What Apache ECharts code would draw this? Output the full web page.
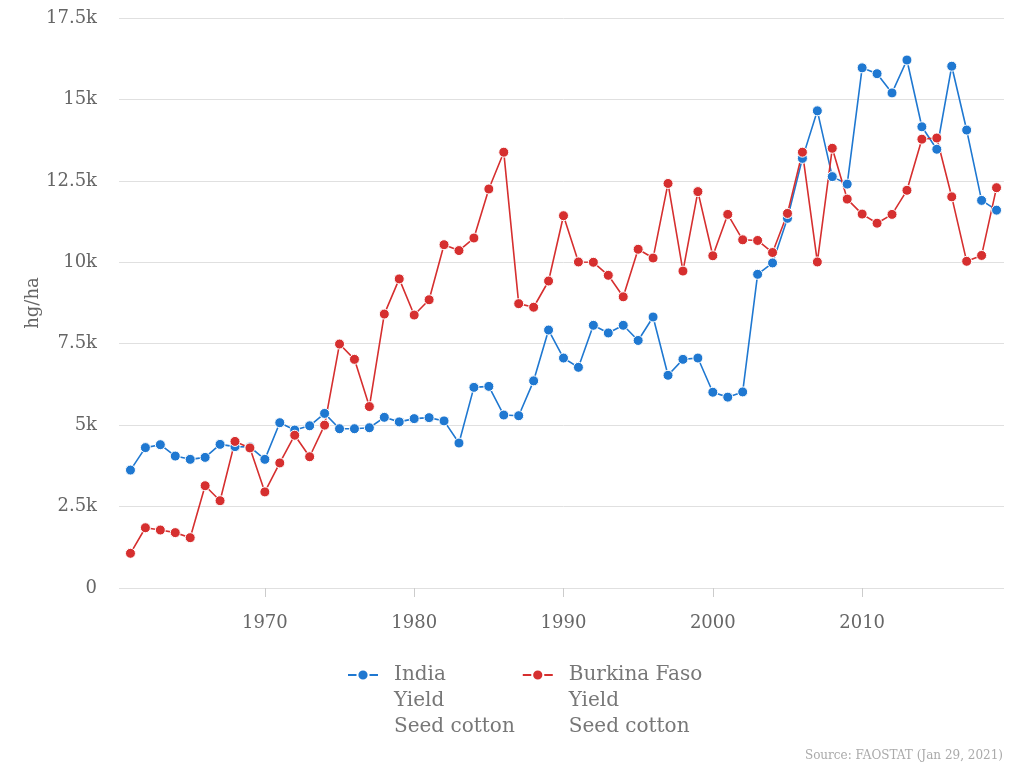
<!DOCTYPE html>
<html>
<head>
<meta charset="utf-8">
<script src="https://cdn.jsdelivr.net/npm/echarts@6/dist/echarts.min.js"></script>
<style>
html,body{margin:0;padding:0;background:#fff;}
#chart{width:1024px;height:768px;}
</style>
</head>
<body>
<div id="chart"></div>
<script>
const years = [];
for (let y = 1961; y <= 2019; y++) years.push(y);

const india = [
  3620, 4310, 4400, 4050, 3950, 4010, 4410, 4340, 4330, 3950,
  5075, 4850, 4980, 5360, 4890, 4890, 4920, 5240, 5100, 5200,
  5230, 5130, 4450, 6160, 6190, 5310, 5290, 6360, 7920, 7060,
  6775, 8065, 7830, 8065, 7600, 8320, 6530, 7020, 7060, 6010,
  5860, 6020, 9630, 9980, 11350, 13190, 14650, 12630, 12400, 15970,
  15790, 15200, 16210, 14160, 13470, 16020, 14060, 11900, 11600
];

const burkina = [
  1065, 1850, 1780, 1700, 1545, 3140, 2680, 4500, 4300, 2950,
  3840, 4690, 4030, 5000, 7490, 7020, 5570, 8410, 9490, 8380,
  8850, 10540, 10360, 10745, 12250, 13380, 8730, 8620, 9425, 11430,
  10010, 10000, 9600, 8940, 10400, 10130, 12420, 9730, 12170, 10200,
  11470, 10690, 10670, 10300, 11500, 13380, 10010, 13500, 11940, 11480,
  11200, 11470, 12210, 13780, 13815, 12010, 10030, 10210, 12290
];

const xTicks = [1970, 1980, 1990, 2000, 2010];
const seriesNames = ['India\nYield\nSeed cotton', 'Burkina Faso\nYield\nSeed cotton'];
const sourceText = 'Source: FAOSTAT (Jan 29, 2021)';
const yAxisName = 'hg/ha';

const FONT = 'DejaVu Serif';
const BLUE = '#1f78d1';
const RED = '#d62f2f';

const chart = echarts.init(document.getElementById('chart'));
chart.setOption({
  animation: false,
  backgroundColor: '#fff',
  textStyle: { fontFamily: FONT },
  title: {
    text: sourceText,
    right: 16,
    bottom: 1,
    textStyle: { fontFamily: FONT, fontSize: 12, fontWeight: 'normal', color: '#aaa' }
  },
  grid: { left: 123, right: 20, top: 18, bottom: 180, containLabel: false },
  legend: {
    left: 347,
    top: 610,
    padding: 0,
    itemWidth: 30,
    itemHeight: 14,
    itemGap: 7,
    formatter: function (name) { return '\n\n' + name; },
    textStyle: { fontFamily: FONT, fontSize: 20, color: '#777', lineHeight: 26, padding: [0, 0, 0, 11] },
    data: seriesNames
  },
  xAxis: {
    type: 'value',
    min: 1960.5,
    max: 2019.5,
    axisLine: { show: false },
    splitLine: { show: false },
    axisTick: {
      show: true,
      length: 9,
      customValues: xTicks,
      lineStyle: { color: '#ccc' }
    },
    axisLabel: {
      customValues: xTicks,
      margin: 26,
      fontFamily: FONT,
      fontSize: 18,
      color: '#666',
      formatter: function (v) { return String(v); }
    }
  },
  yAxis: {
    type: 'value',
    min: 0,
    max: 17500,
    interval: 2500,
    name: yAxisName,
    nameLocation: 'middle',
    nameGap: 81,
    nameMoveOverlap: false,
    nameTextStyle: { fontFamily: FONT, fontSize: 18, color: '#666' },
    axisLine: { show: false },
    axisTick: { show: true, length: 4, lineStyle: { color: '#e0e0e0' } },
    splitLine: { lineStyle: { color: '#e0e0e0', width: 1 } },
    axisLabel: {
      margin: 26,
      fontFamily: FONT,
      fontSize: 18,
      color: '#666',
      formatter: function (v) { return v === 0 ? '0' : (v / 1000) + 'k'; }
    }
  },
  series: [
    {
      name: seriesNames[0],
      type: 'line',
      data: years.map((y, i) => [y, india[i]]),
      symbol: 'circle',
      symbolSize: 10,
      lineStyle: { color: BLUE, width: 1.6 },
      itemStyle: { color: BLUE, borderColor: '#fff', borderWidth: 1 }
    },
    {
      name: seriesNames[1],
      type: 'line',
      data: years.map((y, i) => [y, burkina[i]]),
      symbol: 'circle',
      symbolSize: 10,
      lineStyle: { color: RED, width: 1.6 },
      itemStyle: { color: RED, borderColor: '#fff', borderWidth: 1 }
    }
  ]
});
</script>
</body>
</html>
